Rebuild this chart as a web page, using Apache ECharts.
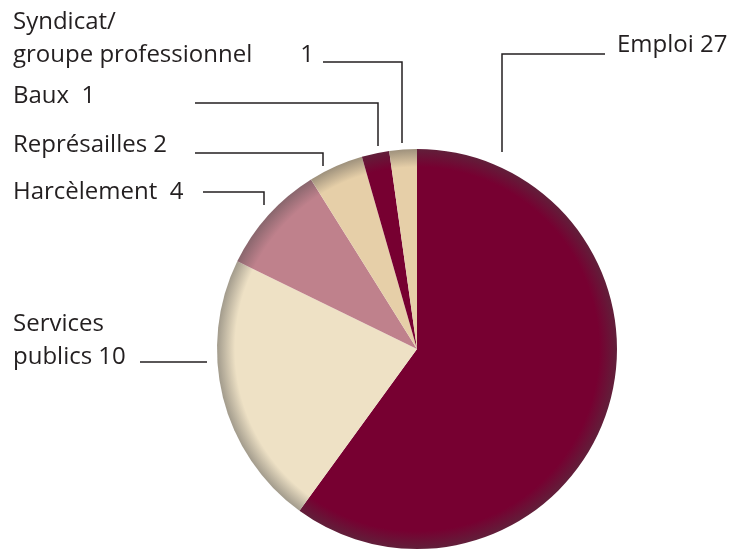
<!DOCTYPE html>
<html>
<head>
<meta charset="utf-8">
<script src="https://cdn.jsdelivr.net/npm/echarts@6/dist/echarts.min.js"></script>
<style>
  html, body { margin: 0; padding: 0; background: #fff; }
  #chart { width: 734px; height: 550px; }
</style>
</head>
<body>
<div id="chart"></div>
<script>
const categories = ['Emploi', 'Services publics', 'Harcèlement', 'Représailles', 'Baux', 'Syndicat/groupe professionnel']
const values = [27, 10, 4, 2, 1, 1]
const colors = ['#770031', '#eee1c5', '#bf818c', '#e6cfa8', '#770031', '#e6cfa8']

// label text as printed in the figure
const labelTexts = [
  '{t|Emploi 27}',
  '{t|Services}\n{t|publics 10}',
  '{t|Harcèlement  4}',
  '{t|Représailles 2}',
  '{t|Baux  1}',
  '{t|Syndicat/}\n{t|groupe professionnel}{n|1}'
]

// label anchor (left, middle) and elbow leader lines
const labelPos = [
  [617, 45], [13, 341], [13, 192], [13, 145], [13, 96], [13, 39]
]
const linePts = [
  [[502, 152], [502, 54], [605, 54]],
  [[207, 362], [174, 362], [140, 362]],
  [[264, 205], [264, 192], [203, 192]],
  [[323, 166], [323, 153], [195, 153]],
  [[378, 146], [378, 103], [195, 103]],
  [[402, 143], [402, 62], [323, 62]]
]

const cx = 417, cy = 349, R = 200

const shade = (hex, f) => {
  const n = parseInt(hex.slice(1), 16)
  const r = (n >> 16) & 255, g = (n >> 8) & 255, b = n & 255
  const m = c => Math.round(c * f + 70 * (1 - f))
  return `rgb(${m(r)},${m(g)},${m(b)})`
}

const fill = c => ({
  type: 'radial', x: cx, y: cy, r: R, global: true,
  colorStops: [
    { offset: 0, color: c },
    { offset: 0.91, color: c },
    { offset: 1, color: shade(c, 0.55) }
  ]
})

const chart = echarts.init(document.getElementById('chart'))

chart.setOption({
  animation: false,
  series: [{
    type: 'pie',
    center: [cx, cy],
    radius: R,
    startAngle: 90,
    clockwise: true,
    avoidLabelOverlap: false,
    data: categories.map((name, i) => ({
      name,
      value: values[i],
      itemStyle: { color: fill(colors[i]) }
    })),
    label: {
      show: true,
      position: 'outside',
      formatter: p => labelTexts[p.dataIndex],
      rich: {
        t: { fontFamily: 'Open Sans', fontSize: 24, color: '#231f20', lineHeight: 33 },
        n: { fontFamily: 'Open Sans', fontSize: 24, color: '#231f20', lineHeight: 33, padding: [0, 0, 0, 48] }
      }
    },
    labelLine: {
      show: true,
      lineStyle: { color: '#231f20', width: 1.5 }
    },
    labelLayout: p => ({
      x: labelPos[p.dataIndex][0],
      y: labelPos[p.dataIndex][1],
      align: 'left',
      verticalAlign: 'middle',
      labelLinePoints: linePts[p.dataIndex]
    }),
    emphasis: { disabled: true }
  }]
})
</script>
</body>
</html>
